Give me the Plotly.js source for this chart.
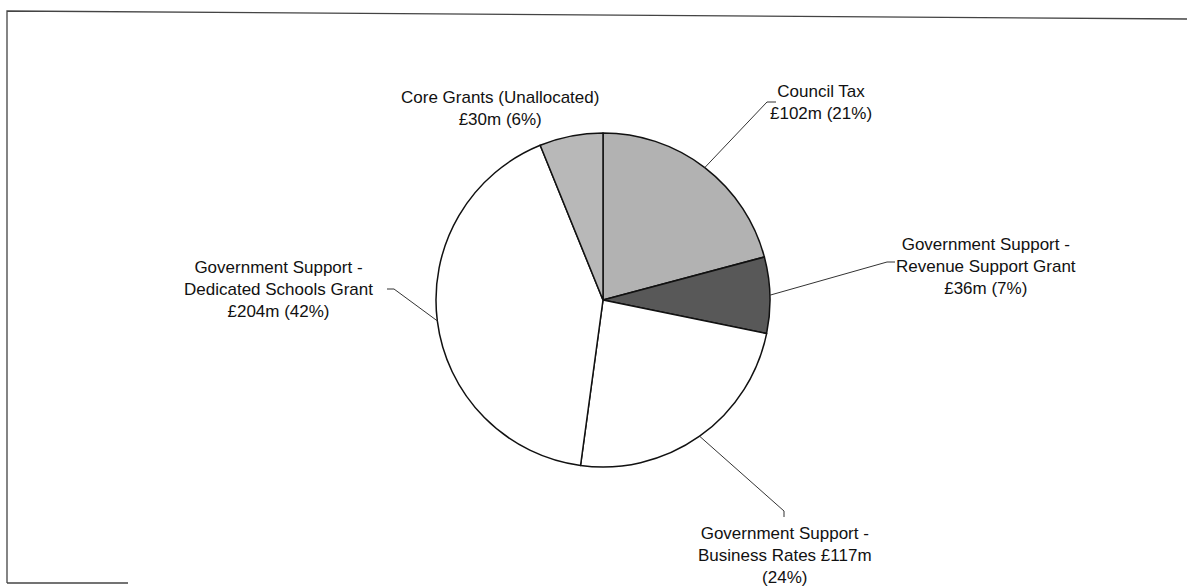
<!DOCTYPE html>
<html>
<head>
<meta charset="utf-8">
<script src="https://cdn.plot.ly/plotly-3.0.1.min.js"></script>
<style>html,body{margin:0;padding:0;background:#fff;}#chart{width:1187px;height:587px;}</style>
</head>
<body>
<div id="chart"></div>
<script>
// ---- data ----
const categories = [
  "Council Tax",
  "Government Support - Revenue Support Grant",
  "Government Support - Business Rates",
  "Government Support - Dedicated Schools Grant",
  "Core Grants (Unallocated)"
];
const values = [102, 36, 117, 204, 30];
const percents = [21, 7, 24, 42, 6];
const labelTexts = [
  "Council Tax<br>£102m (21%)",
  "Government Support -<br>Revenue Support Grant<br>£36m (7%)",
  "Government Support -<br>Business Rates £117m<br>(24%)",
  "Government Support -<br>Dedicated Schools Grant<br>£204m (42%)",
  "Core Grants (Unallocated)<br>£30m (6%)"
];
const sliceColors = ["#b2b2b2", "#585858", "#ffffff", "#ffffff", "#b8b8b8"];

// ---- layout helpers ----
const W = 1187, H = 587;
const cx = 603, cy = 300, R = 167;
const px = x => x / W;
const py = y => 1 - y / H;

// label anchor positions (px) and leader elbows (null = no leader)
const labelPos = [[821, 102], [986, 266], [785, 555], [278, 290], [500, 108]];
const elbows = [[[776, 102], [767, 102]], [[895, 262], [887, 262]], [[784, 517], [784, 511]], [[387, 289], [394, 289]], null];

const total = values.reduce((a, b) => a + b, 0);
let cum = 0;
const shapes = [];
const annotations = [];
values.forEach((v, i) => {
  const mid = (cum + v / 2) / total * 2 * Math.PI;
  cum += v;
  const ex = cx + R * Math.sin(mid), ey = cy - R * Math.cos(mid);
  if (elbows[i]) {
    let path = `M ${px(ex)} ${py(ey)}`;
    const pts = elbows[i].slice().reverse();
    pts.forEach(p => { path += ` L ${px(p[0])} ${py(p[1])}`; });
    shapes.push({type: 'path', xref: 'paper', yref: 'paper', path: path,
      line: {color: '#333', width: 1}});
  }
  annotations.push({
    xref: 'paper', yref: 'paper', x: px(labelPos[i][0]), y: py(labelPos[i][1]),
    xanchor: 'center', yanchor: 'middle', showarrow: false, align: 'center',
    text: labelTexts[i], font: {family: 'Liberation Sans, Arial, sans-serif', size: 17, color: '#111'}
  });
});

// frame
shapes.push({type: 'path', xref: 'paper', yref: 'paper',
  path: `M ${px(7)} ${py(583)} L ${px(7)} ${py(11)} L ${px(1187)} ${py(19)}`,
  line: {color: '#444', width: 1.3}});
shapes.push({type: 'line', xref: 'paper', yref: 'paper',
  x0: px(7), x1: px(128), y0: py(583), y1: py(583), line: {color: '#444', width: 1.3}});

const trace = {
  type: 'pie',
  labels: categories,
  values: values,
  sort: false,
  direction: 'clockwise',
  rotation: 0,
  textinfo: 'none',
  hoverinfo: 'label+value+percent',
  marker: {colors: sliceColors, line: {color: '#111', width: 1.5}},
  domain: {x: [px(cx - R), px(cx + R)], y: [py(cy + R), py(cy - R)]},
  showlegend: false
};

const layout = {
  width: W, height: H,
  margin: {l: 0, r: 0, t: 0, b: 0},
  paper_bgcolor: '#fff',
  showlegend: false,
  shapes: shapes,
  annotations: annotations
};

Plotly.newPlot('chart', [trace], layout, {displayModeBar: false, staticPlot: true});
</script>
</body>
</html>
